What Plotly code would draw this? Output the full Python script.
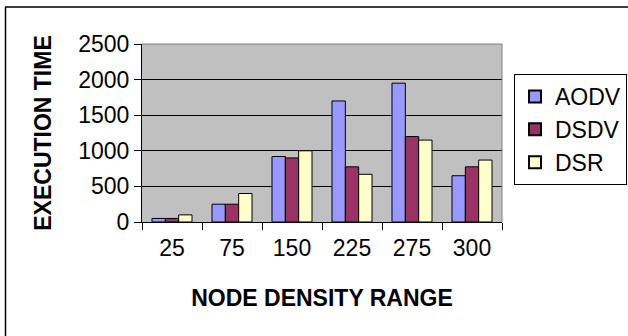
import plotly.graph_objects as go

categories = ["25", "75", "150", "225", "275", "300"]
aodv = [50, 250, 920, 1700, 1950, 650]
dsdv = [50, 250, 900, 775, 1200, 775]
dsr = [100, 400, 1000, 670, 1150, 870]
y_ticks = [0, 500, 1000, 1500, 2000, 2500]

W, H = 628, 336
L, R, T, B = 142, 126, 44, 114
pw, ph = W - L - R, H - T - B

def px(x):
    return (x - L) / pw

def py(y):
    return (H - B - y) / ph

FONT = "Liberation Sans, Arial, sans-serif"

fig = go.Figure()
for name, vals, col in [("AODV", aodv, "#9999FF"), ("DSDV", dsdv, "#993366"), ("DSR", dsr, "#FFFFCC")]:
    fig.add_trace(go.Bar(name=name, x=categories, y=vals, marker=dict(color=col, line=dict(color="black", width=1)),
                         legendgroup=name))

fig.update_layout(
    width=W, height=H,
    margin=dict(l=L, r=R, t=T, b=B, autoexpand=False),
    paper_bgcolor="white", plot_bgcolor="#C0C0C0",
    barmode="group", bargap=0.333, bargroupgap=0,
    font=dict(family=FONT, color="black", size=23),
    showlegend=True,
    legend=dict(x=px(514), y=py(74), xanchor="left", yanchor="top",
                bordercolor="black", borderwidth=1, bgcolor="white",
                font=dict(size=23, family=FONT), tracegroupgap=0,
                itemsizing="constant"),
    xaxis=dict(type="category", showgrid=False, showline=True, linecolor="black", linewidth=1,
               ticks="outside", tickson="boundaries", ticklen=7, tickcolor="black",
               ticklabelstandoff=5,
               tickfont=dict(size=23), title=dict(text="<b>NODE DENSITY RANGE</b>", standoff=30,
                                                    font=dict(size=23))),
    yaxis=dict(range=[0, 2500], tickvals=y_ticks, showgrid=True, gridcolor="black", gridwidth=1,
               showline=True, linecolor="black", linewidth=1, zeroline=False,
               ticks="outside", ticklen=7, tickcolor="black", tickfont=dict(size=23),
               title=dict(text="<b>EXECUTION TIME</b>", standoff=20, font=dict(size=23))),
    shapes=[
        dict(type="line", xref="paper", yref="paper", x0=px(142), x1=px(502), y0=py(44), y1=py(44),
             line=dict(color="#808080", width=1)),
        dict(type="line", xref="paper", yref="paper", x0=px(502), x1=px(502), y0=py(44), y1=py(222),
             line=dict(color="#808080", width=1)),
        dict(type="line", xref="paper", yref="paper", x0=px(5.5), x1=px(5.5), y0=py(7), y1=py(336),
             line=dict(color="black", width=1.5)),
        dict(type="line", xref="paper", yref="paper", x0=px(5), x1=px(628), y0=py(7), y1=py(7),
             line=dict(color="black", width=1.5)),
    ],
)

fig.write_html("out.html")
